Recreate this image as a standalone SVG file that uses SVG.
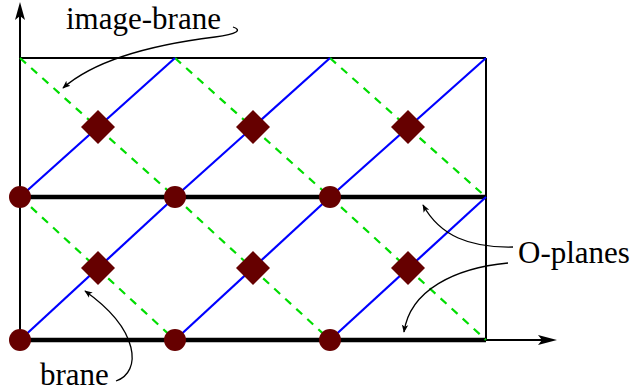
<svg xmlns="http://www.w3.org/2000/svg" width="634" height="392" viewBox="0 0 634 392">
<defs>
<style>
.frame{stroke:#000;stroke-width:2;fill:none}
.thick{stroke:#000;stroke-width:4.5;fill:none}
.brane{stroke:#0000ff;stroke-width:2.2;fill:none}
.img{stroke:#00dd00;stroke-width:2.2;fill:none;stroke-dasharray:8,7}
.op{fill:#660000}
.call{stroke:#000;stroke-width:1.3;fill:none;marker-end:url(#ah)}
</style>
<marker id="ah" viewBox="0 0 10 10" refX="9" refY="5" markerWidth="8" markerHeight="8" markerUnits="userSpaceOnUse" orient="auto"><path d="M0,1 L10,5 L0,9 L2.5,5 Z" fill="#000"/></marker>
</defs>
<g id="axes">
<line class="frame" x1="20" y1="340" x2="20" y2="14"/>
<polygon points="20,2 15,20 20,16 25,20" fill="#000"/>
<line class="frame" x1="486" y1="340" x2="542" y2="340"/>
<polygon points="557,340 538,335 542,340 538,345" fill="#000"/>
</g>
<g id="frame">
<line class="frame" x1="20" y1="58" x2="486" y2="58"/>
<line class="frame" x1="486" y1="58" x2="486" y2="340"/>
<line class="thick" x1="20" y1="197" x2="486" y2="197"/>
<line class="thick" x1="20" y1="340" x2="486" y2="340"/>
</g>
<g id="image-branes">
<line class="img" x1="20" y1="58" x2="175" y2="197"/>
<line class="img" x1="175" y1="58" x2="330" y2="197"/>
<line class="img" x1="330" y1="58" x2="486" y2="197"/>
<line class="img" x1="20" y1="197" x2="175" y2="340"/>
<line class="img" x1="175" y1="197" x2="330" y2="340"/>
<line class="img" x1="330" y1="197" x2="486" y2="340"/>
</g>
<g id="branes">
<line class="brane" x1="20" y1="197" x2="175" y2="58"/>
<line class="brane" x1="175" y1="197" x2="330" y2="58"/>
<line class="brane" x1="330" y1="197" x2="486" y2="58"/>
<line class="brane" x1="20" y1="340" x2="175" y2="197"/>
<line class="brane" x1="175" y1="340" x2="330" y2="197"/>
<line class="brane" x1="330" y1="340" x2="486" y2="197"/>
</g>
<g id="o-planes">
<circle class="op" cx="20" cy="197" r="11"/>
<circle class="op" cx="175" cy="197" r="11"/>
<circle class="op" cx="330" cy="197" r="11"/>
<circle class="op" cx="20" cy="340" r="11"/>
<circle class="op" cx="175" cy="340" r="11"/>
<circle class="op" cx="330" cy="340" r="11"/>
</g>
<g id="intersections">
<polygon class="op" points="98,110 115,127 98,144 81,127"/>
<polygon class="op" points="253,110 270,127 253,144 236,127"/>
<polygon class="op" points="408,110 425,127 408,144 391,127"/>
<polygon class="op" points="98,251 115,268 98,285 81,268"/>
<polygon class="op" points="253,251 270,268 253,285 236,268"/>
<polygon class="op" points="408,251 425,268 408,285 391,268"/>
</g>
<g id="labels" font-family="'Liberation Serif', 'Times New Roman', serif" font-size="31" fill="#000">
<text x="66" y="29">image-brane</text>
<text x="518" y="263">O-planes</text>
<text x="40" y="385">brane</text>
</g>
<g id="connectors">
<path class="call" d="M233,27 C242,30 238,34 215,37 C150,45 95,60 63,88"/>
<path class="call" d="M513,247 C470,248 440,236 423,205"/>
<path class="call" d="M508,263 C455,268 410,290 404,332"/>
<path class="call" d="M116,381 C142,372 140,330 85,291"/>
</g>
</svg>
